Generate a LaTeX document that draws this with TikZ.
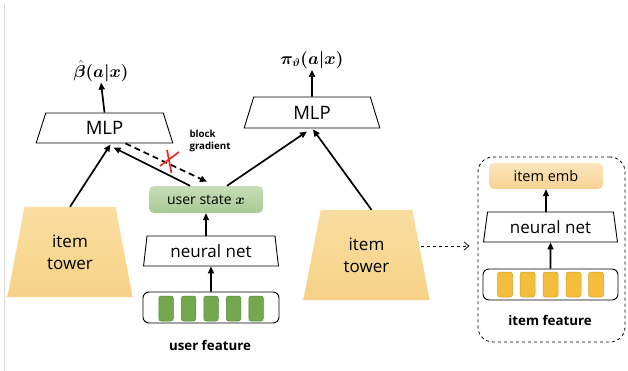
\documentclass[tikz,border=0pt]{standalone}
\usepackage{amsmath,bm}
\usepackage{fontspec}
\setmainfont{Open Sans}
\usetikzlibrary{shapes.geometric,arrows.meta}
\definecolor{towtop}{RGB}{249,221,160}
\definecolor{towbot}{RGB}{246,210,135}
\definecolor{ustop}{RGB}{200,222,185}
\definecolor{usbot}{RGB}{166,202,146}
\definecolor{gcell}{RGB}{116,168,78}
\definecolor{gcelld}{RGB}{88,135,58}
\definecolor{ycell}{RGB}{244,190,60}
\definecolor{ycelld}{RGB}{214,160,42}
\definecolor{embtop}{RGB}{251,230,190}
\definecolor{embbot}{RGB}{248,210,145}
\definecolor{xred}{RGB}{235,40,40}
\tikzset{
  trap/.style={draw, line width=0.9pt, trapezium, trapezium stretches=true, inner sep=0pt},
  arr/.style={-{Triangle[length=7pt,width=6pt]}, line width=1.7pt},
  tower/.style={trapezium, trapezium stretches=true, trapezium angle=76.5, minimum height=90pt,
    top color=towtop, bottom color=towbot, draw=none, align=center, font=\fontsize{17}{22}\selectfont},
  featbox/.style={draw, line width=0.9pt, rounded corners=6pt, minimum width=136pt, minimum height=31pt},
  cell/.style={rounded corners=2.5pt, line width=0.5pt, minimum width=14.5pt, minimum height=25pt, inner sep=0pt},
  bolds/.style={font=\bfseries\fontsize{13.3}{16}\selectfont},
}
\begin{document}
\begin{tikzpicture}[x=1pt,y=-1pt]
\useasboundingbox (0,0) rectangle (628,371);
\draw[black!15, line width=1pt] (4.5,4) -- (4.5,371);

% left branch
\node[trap, trapezium angle=77, minimum width=137pt, minimum height=30pt, font=\fontsize{18.5}{22}\selectfont] (lmlp) at (104.5,128) {MLP};
\node[font=\fontsize{16}{18}\selectfont, inner sep=1pt] (beta) at (101,71) {$\bm{\hat{\beta}(a|x)}$};
\node[tower, minimum width=126pt] (lt) at (70,252) {item\\tower};

% centre user branch
\node[rounded corners=5pt, top color=ustop, bottom color=usbot, minimum width=114pt, minimum height=27pt, inner sep=0pt,
  font=\fontsize{14}{16}\selectfont] (us) at (206,199.5) {user state $\bm{x}$};
\node[trap, trapezium angle=80.5, minimum width=136pt, minimum height=30pt, font=\fontsize{17}{20}\selectfont] (unn) at (211,251) {neural net};
\node[featbox] (uf) at (211,307.5) {};
\foreach \i/\x in {1/166,2/188.5,3/211,4/233.5,5/256}
  \node[cell, fill=gcell, draw=gcelld] (uc\i) at (\x,308.5) {};
\node[bolds] (ufl) at (210,345) {user feature};
\node[font=\bfseries\fontsize{9.7}{12.5}\selectfont, align=left, anchor=west] (bg) at (186,141) {block\\gradient};

% right branch
\node[trap, trapezium angle=77, minimum width=136pt, minimum height=31pt, font=\fontsize{18.5}{22}\selectfont] (rmlp) at (312,112.5) {MLP};
\node[font=\fontsize{16}{18}\selectfont, inner sep=1pt] (pi) at (312,60) {$\bm{\pi_{\vartheta}(a|x)}$};
\node[tower, minimum width=127pt] (rt) at (366.5,255) {item\\tower};

% item tower detail
\node[draw, dashed, line width=0.8pt, rounded corners=15pt, minimum width=147pt, minimum height=185pt] (ib) at (551.5,249.5) {};
\node[rounded corners=5pt, top color=embtop, bottom color=embbot, minimum width=114pt, minimum height=26pt, inner sep=0pt,
  font=\fontsize{14.5}{16}\selectfont] (iemb) at (546,176) {item emb};
\node[trap, trapezium angle=78.7, minimum width=135pt, minimum height=30pt, font=\fontsize{17}{20}\selectfont] (inn) at (550.5,227) {neural net};
\node[featbox, minimum width=135pt] (if) at (550.5,284.5) {};
\foreach \i/\x in {1/505,2/527.5,3/550.5,4/573.5,5/596}
  \node[cell, minimum width=15pt, fill=ycell, draw=ycelld] (ic\i) at (\x,284.5) {};
\node[bolds] (ifl) at (550,320) {item feature};

% connectors
\draw[arr] (lmlp.north) -- (beta.south);
\draw[arr] (rmlp.north) -- (pi.south);
\draw[arr] (us.south |- unn.north) -- (us.south);
\draw[arr] (uf.north) -- (unn.south);
\draw[arr] (lt.north) -- ([xshift=6pt,yshift=-1pt]lmlp.south);
\draw[arr] ([xshift=-16pt]us.north) -- ([xshift=9pt,yshift=-4pt]lmlp.south);
\draw[arr, dashed, dash pattern=on 6pt off 4pt] ([xshift=21pt]lmlp.south) -- ([xshift=1pt,yshift=4pt]us.north);
\draw[arr] ([xshift=21pt]us.north) -- ([xshift=-5pt,yshift=-3pt]rmlp.south);
\draw[arr] ([xshift=5pt]rt.north) -- ([xshift=1pt,yshift=-1pt]rmlp.south);
\draw[dashed, line width=0.8pt, -{Straight Barb[length=5pt,width=8pt]}, shorten >=8pt] ([yshift=9pt]rt.east) -- ([yshift=9pt]rt.east -| ib.west);
\draw[arr] (iemb.south |- inn.north) -- (iemb.south);
\draw[arr] (if.north) -- (inn.south);

% block mark
\draw[xred, line width=1.7pt] (167,150) -- (171.5,173) (160,166) -- (179,152);
\end{tikzpicture}
\end{document}
